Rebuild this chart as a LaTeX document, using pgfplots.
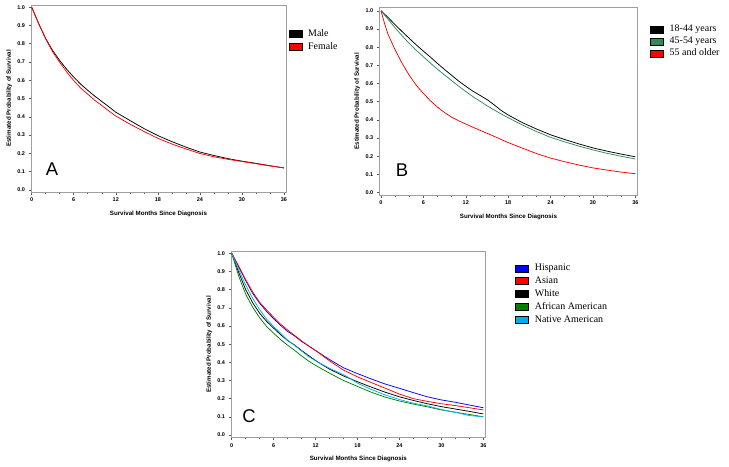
\documentclass[border=0pt]{standalone}
\usepackage{fontspec}
\setmainfont{Liberation Serif}
\setsansfont{Liberation Sans}
\usepackage{pgfplots}
\pgfplotsset{compat=1.18}
\definecolor{bgreen}{RGB}{46,139,87}
\definecolor{cgreen}{RGB}{0,128,0}
\pgfplotsset{
 km/.style={
  scale only axis, xmin=-0.1, xmax=36.3, ymin=-0.012, ymax=1.012,
  xtick={0,6,12,18,24,30,36}, minor x tick num=2,
  ytick={0,0.1,0.2,0.3,0.4,0.5,0.6,0.7,0.8,0.9,1.0},
  tick align=outside, tick pos=left,
  major tick length=2.5bp, minor tick length=1.8bp,
  axis line style={gray!75, line width=0.6bp},
  tick style={black!65, line width=0.5bp},
  ticklabel style={font=\sffamily\bfseries\fontsize{5.5}{6}\selectfont},
  xticklabel style={/pgf/number format/assume math mode=true},
  yticklabel style={/pgf/number format/.cd, fixed, fixed zerofill, precision=1, assume math mode=true},
  xlabel={Survival Months Since Diagnosis}, ylabel={Estimated Probability of Survival},
  every axis x label/.style={at={(axis description cs:0.5,-0.115)}, anchor=center, font=\sffamily\bfseries\fontsize{6.2}{7}\selectfont},
  every axis y label/.style={at={(axis description cs:-0.085,0.5)}, anchor=center, rotate=90, font=\sffamily\bfseries\fontsize{6.2}{7}\selectfont},
  legend style={draw=none, fill=none, font=\fontsize{10}{12}\selectfont, anchor=north west, inner sep=0pt, row sep=0pt, column sep=4.5bp, nodes={inner sep=1.5bp, text height=7bp, text depth=2bp}},
  legend cell align=left,
  legend image code/.code={\draw[#1, draw=black, line width=0.4bp] (0bp,-3.5bp) rectangle (13bp,3.5bp);},
  every axis plot/.append style={line width=0.75bp},
 }
}
\begin{document}
\begin{tikzpicture}[x=1bp,y=1bp]
\path[use as bounding box] (0,0) rectangle (729,-467);
% ---------------- Panel A
\begin{axis}[km, at={(31bp,-192bp)}, anchor=south west, width=255bp, height=187bp,
  legend style={at={(axis description cs:1.01,0.88)}, nodes={text height=7.5bp, text depth=2.5bp}}]
\addlegendimage{fill=black}\addlegendentry{Male}
\addlegendimage{fill=red}\addlegendentry{Female}
\addplot[black, forget plot] coordinates {(0,1.0)(0.5,0.955)(1,0.91)(2,0.828)(3,0.762)(4,0.708)(5,0.66)(6,0.617)(7,0.578)(8,0.545)(9,0.513)(10,0.484)(11,0.455)(12,0.425)(14,0.38)(16,0.336)(18,0.297)(20,0.264)(22,0.234)(24,0.207)(26,0.188)(28,0.171)(30,0.157)(32,0.145)(34,0.132)(36,0.12)};
\addplot[red, forget plot] coordinates {(0,1.0)(0.5,0.955)(1,0.91)(2,0.826)(3,0.755)(4,0.698)(5,0.645)(6,0.598)(7,0.557)(8,0.524)(9,0.49)(10,0.462)(11,0.432)(12,0.404)(14,0.36)(16,0.32)(18,0.282)(20,0.251)(22,0.224)(24,0.199)(26,0.181)(28,0.167)(30,0.155)(32,0.143)(34,0.131)(36,0.12)};
\node[anchor=base west, inner sep=0pt, font=\sffamily\fontsize{18.5}{20}\selectfont] at (rel axis cs:0.058,0.086) {A};
\end{axis}
% ---------------- Panel B
\begin{axis}[km, at={(379.3bp,-195bp)}, anchor=south west, width=258.4bp, height=187.7bp,
  xmin=-0.24, xmax=36.34, ymin=-0.013, ymax=1.019,
  legend style={at={(axis description cs:1.048,0.915)}}]
\addlegendimage{fill=black}\addlegendentry{18-44 years}
\addlegendimage{fill=bgreen}\addlegendentry{45-54 years}
\addlegendimage{fill=red}\addlegendentry{55 and older}
\addplot[black, forget plot] coordinates {(0,1.0)(1,0.963)(2,0.923)(3,0.885)(4,0.848)(5,0.812)(6,0.778)(7,0.745)(8,0.71)(9,0.677)(10,0.645)(11,0.613)(12,0.585)(13,0.558)(14,0.535)(15,0.512)(16,0.483)(17,0.452)(18,0.427)(20,0.385)(22,0.35)(24,0.318)(26,0.292)(28,0.268)(30,0.246)(32,0.228)(34,0.212)(36,0.197)};
\addplot[bgreen, forget plot] coordinates {(0,1.0)(1,0.953)(2,0.906)(3,0.862)(4,0.82)(5,0.782)(6,0.747)(7,0.712)(8,0.678)(9,0.647)(10,0.616)(11,0.585)(12,0.556)(13,0.528)(14,0.503)(15,0.478)(16,0.455)(17,0.433)(18,0.412)(20,0.372)(22,0.336)(24,0.304)(26,0.279)(28,0.256)(30,0.235)(32,0.216)(34,0.2)(36,0.185)};
\addplot[red, forget plot] coordinates {(0,1.0)(0.5,0.93)(1,0.87)(2,0.785)(3,0.71)(4,0.645)(5,0.59)(6,0.545)(7,0.505)(8,0.47)(9,0.44)(10,0.415)(11,0.395)(12,0.377)(14,0.343)(16,0.31)(18,0.275)(20,0.245)(22,0.215)(24,0.19)(26,0.17)(28,0.152)(30,0.136)(32,0.124)(34,0.113)(36,0.104)};
\node[anchor=base west, inner sep=0pt, font=\sffamily\fontsize{18.5}{20}\selectfont] at (rel axis cs:0.063,0.101) {B};
\end{axis}
% ---------------- Panel C
\begin{axis}[km, at={(231bp,-437.3bp)}, anchor=south west, width=254.7bp, height=185.6bp,
  xmin=-0.1, xmax=36.34, ymin=-0.0127, ymax=1.0088,
  legend style={at={(axis description cs:1.116,0.946)}, nodes={text height=7.5bp, text depth=2.3bp}}]
\addlegendimage{fill=blue}\addlegendentry{Hispanic}
\addlegendimage{fill=red}\addlegendentry{Asian}
\addlegendimage{fill=black}\addlegendentry{White}
\addlegendimage{fill=cgreen}\addlegendentry{African American}
\addlegendimage{fill=cyan}\addlegendentry{Native American}
\addplot[blue, forget plot] coordinates {(0,1)(1,0.925)(2,0.85)(3,0.78)(4,0.725)(5,0.68)(6,0.64)(7,0.603)(8,0.57)(9,0.545)(10,0.515)(11,0.49)(12,0.465)(14,0.415)(16,0.37)(18,0.338)(20,0.308)(22,0.28)(24,0.257)(26,0.233)(28,0.21)(30,0.193)(32,0.18)(34,0.165)(36,0.15)};
\addplot[red, forget plot] coordinates {(0,1)(1,0.93)(2,0.855)(3,0.787)(4,0.73)(5,0.688)(6,0.648)(7,0.61)(8,0.578)(9,0.548)(10,0.518)(11,0.49)(12,0.465)(14,0.408)(16,0.357)(18,0.32)(20,0.288)(22,0.257)(24,0.225)(26,0.2)(28,0.185)(30,0.172)(32,0.162)(34,0.15)(36,0.138)};
\addplot[black, forget plot] coordinates {(0,1)(1,0.895)(2,0.8)(3,0.728)(4,0.67)(5,0.625)(6,0.588)(7,0.552)(8,0.52)(9,0.495)(10,0.465)(11,0.437)(12,0.41)(14,0.362)(16,0.325)(18,0.293)(20,0.263)(22,0.235)(24,0.21)(26,0.19)(28,0.172)(30,0.156)(32,0.143)(34,0.13)(36,0.116)};
\addplot[cgreen, forget plot] coordinates {(0,1)(1,0.875)(2,0.775)(3,0.703)(4,0.645)(5,0.597)(6,0.56)(7,0.525)(8,0.494)(9,0.466)(10,0.435)(11,0.407)(12,0.383)(14,0.34)(16,0.3)(18,0.267)(20,0.235)(22,0.208)(24,0.187)(26,0.17)(28,0.155)(30,0.138)(32,0.125)(34,0.113)(36,0.1)};
\addplot[cyan, forget plot] coordinates {(0,1)(1,0.91)(2,0.825)(3,0.752)(4,0.69)(5,0.637)(6,0.597)(7,0.56)(8,0.522)(9,0.493)(10,0.462)(11,0.432)(12,0.408)(14,0.367)(16,0.332)(17,0.31)(18,0.285)(20,0.25)(22,0.22)(24,0.195)(26,0.175)(28,0.16)(30,0.14)(32,0.125)(34,0.107)(36,0.1)};
\node[anchor=base west, inner sep=0pt, font=\sffamily\fontsize{18.5}{20}\selectfont] at (rel axis cs:0.044,0.081) {C};
\end{axis}
\end{tikzpicture}
\end{document}
